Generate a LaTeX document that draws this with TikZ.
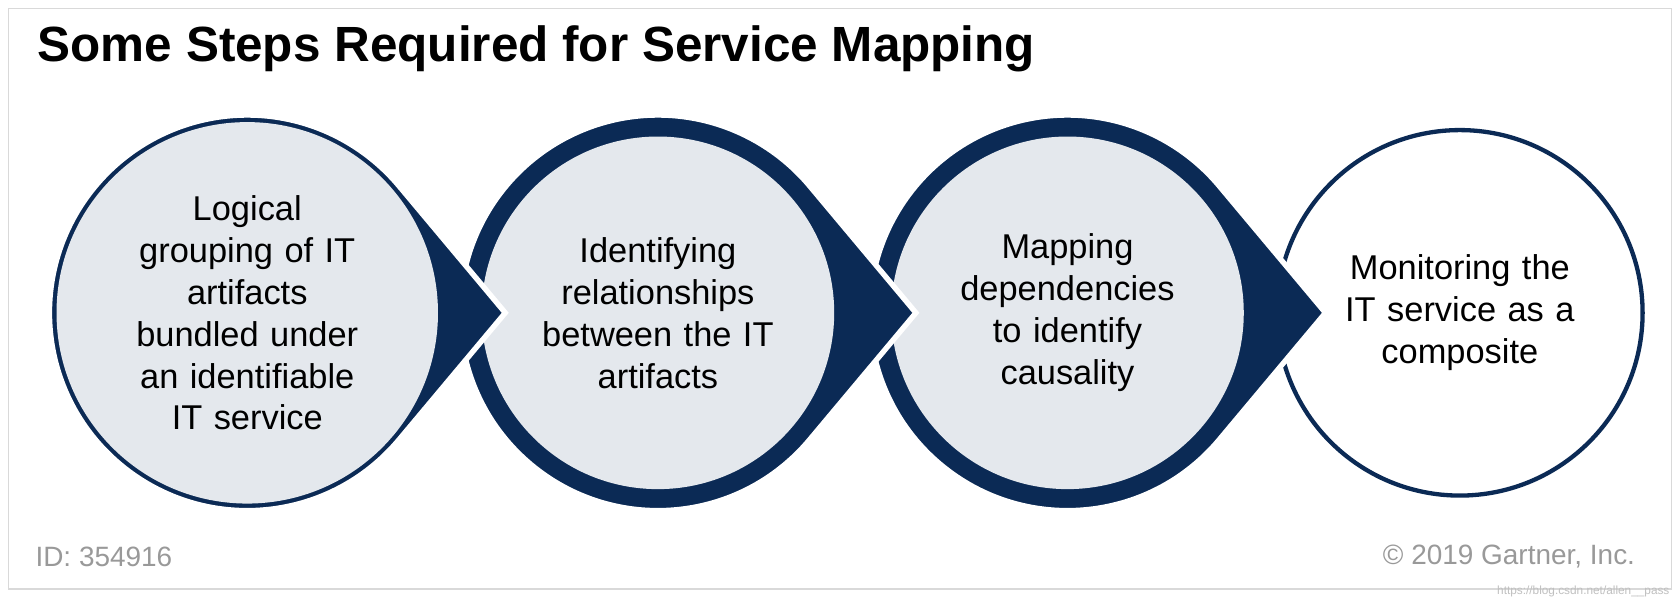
\documentclass[tikz,border=0pt]{standalone}
\usepackage{fontspec}
\setmainfont{Liberation Sans}
\usetikzlibrary{calc}
\definecolor{navy}{HTML}{0B2A55}
\definecolor{pale}{HTML}{E4E8ED}
\begin{document}
\begin{tikzpicture}[x=0.5pt,y=-0.5pt,
  body/.style={circle,inner sep=0pt,minimum size=164pt,fill=pale,align=center,font=\fontsize{16}{19.5}\selectfont,text width=140pt},
  foot/.style={font=\fontsize{13}{15}\selectfont,text=gray!80},
  drop/.style={fill=navy,draw=white,line width=2.5pt}]
\useasboundingbox (0,0) rectangle (1560,562);
\draw[gray!30,line width=0.8pt] (8,8) rectangle (1555,548);
\node[anchor=west,font=\bfseries\fontsize{23}{26}\selectfont] (title) at (28,45) {Some Steps Required for Service Mapping};
\def\R{184}\def\D{240}
\pgfmathsetmacro\th{acos(\R/\D)}
\node[body,fill=white,draw=navy,line width=2pt,minimum size=170pt] (nd) at (1358,291) {Monitoring the\\IT service as a\\composite};
\coordinate (cc) at (993,291);
\fill[drop] ($(cc)+(\th:\R)$) arc[start angle=\th,end angle=360-\th,radius=\R] -- ($(cc)+(\D,0)$) -- cycle;
\node[body] (nc) at (cc) {Mapping\\dependencies\\to identify\\causality};
\coordinate (cb) at (612,291);
\fill[drop] ($(cb)+(\th:\R)$) arc[start angle=\th,end angle=360-\th,radius=\R] -- ($(cb)+(\D,0)$) -- cycle;
\node[body] (nb) at (cb) {Identifying\\relationships\\between the IT\\artifacts};
\coordinate (ca) at (230,291);
\fill[drop] ($(ca)+(\th:\R)$) arc[start angle=\th,end angle=360-\th,radius=\R] -- ($(ca)+(\D,0)$) -- cycle;
\node[body] (na) at (ca) {Logical\\grouping of IT\\artifacts\\bundled under\\an identifiable\\IT service};
\node[foot,anchor=west] (id) at (26,518) {ID: 354916};
\node[foot,anchor=east] (copy) at (1528,518) {© 2019 Gartner, Inc.};
\node[anchor=east,font=\fontsize{5.5}{6}\selectfont,text=gray!50] (wm) at (1560,550) {https://blog.csdn.net/allen\_\_pass};
\end{tikzpicture}
\end{document}
